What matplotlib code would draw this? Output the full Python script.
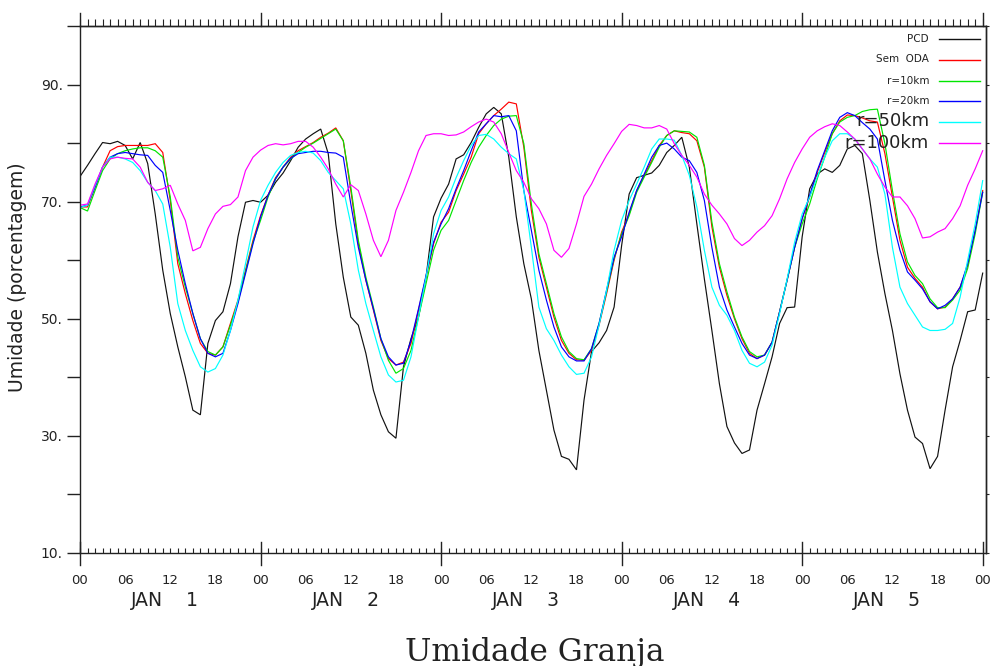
import numpy as np
import matplotlib
matplotlib.use("Agg")
import matplotlib.pyplot as plt
import matplotlib.transforms as mtransforms
from matplotlib.lines import Line2D

# ---------------- data (hourly, 00Z JAN 1 .. 00Z JAN 6) ----------------
hours = np.arange(0, 121)

pcd = [74.3, 76.2, 78.2, 80.1, 79.9, 80.3, 79.6, 77.3, 80.1, 76.5, 67.9, 58.3, 50.9, 45.2, 40.1, 34.4, 33.6, 45.8, 49.7, 51.2, 56.0, 64.0, 69.9, 70.2,
       69.9, 71.1, 73.3, 74.9, 77.0, 79.3, 80.7, 81.6, 82.4, 78.2, 66.2, 57.1, 50.3, 48.9, 44.1, 37.8, 33.6, 30.7, 29.6, 41.8, 46.6, 50.3, 57.1, 67.4,
       70.6, 73.0, 77.3, 78.0, 80.1, 82.7, 85.0, 86.1, 85.0, 77.6, 67.4, 59.4, 53.4, 44.6, 37.8, 31.0, 26.5, 26.0, 24.2, 36.1, 44.4, 45.9, 48.0, 52.0,
       62.5, 71.3, 74.1, 74.5, 74.9, 76.2, 78.4, 79.6, 81.0, 75.9, 66.2, 56.8, 48.0, 38.9, 31.6, 28.8, 27.0, 27.6, 34.4, 38.9, 43.5, 49.2, 51.9, 52.0,
       64.0, 72.2, 74.7, 75.6, 75.0, 76.2, 79.0, 79.6, 78.2, 70.2, 61.4, 54.3, 48.0, 40.6, 34.4, 29.8, 28.7, 24.4, 26.5, 34.4, 41.8, 46.3, 51.2, 51.5, 57.8]

sem_oda = [69.1, 69.1, 72.5, 75.9, 78.7, 79.4, 79.6, 79.6, 79.6, 79.6, 79.9, 78.4, 70.2, 59.4, 54.3, 49.7, 45.8, 44.1, 43.8, 45.2, 49.2, 53.2, 58.3, 63.4,
           67.6, 71.1, 74.1, 75.9, 77.6, 78.7, 79.4, 80.1, 81.0, 81.7, 82.6, 80.4, 71.9, 62.8, 56.6, 51.5, 46.3, 43.2, 42.1, 42.6, 45.8, 51.5, 57.1, 62.8,
           66.5, 68.2, 71.9, 74.7, 77.6, 81.6, 83.3, 84.7, 85.8, 87.0, 86.7, 79.3, 68.5, 60.5, 55.4, 50.3, 46.3, 44.1, 43.0, 42.9, 44.6, 48.9, 54.3, 60.0,
           64.8, 67.9, 71.9, 74.5, 77.0, 79.6, 81.3, 82.1, 81.8, 81.6, 80.4, 75.9, 65.7, 58.8, 54.0, 50.0, 46.6, 44.1, 43.2, 43.8, 46.0, 51.2, 56.6, 62.2,
           67.1, 70.8, 75.0, 78.4, 81.6, 83.8, 84.8, 84.7, 84.3, 83.8, 83.6, 78.2, 70.8, 63.4, 58.8, 56.9, 55.4, 52.9, 51.7, 52.0, 53.4, 55.4, 59.1, 65.1, 71.9]

r10 = [69.0, 68.4, 71.9, 75.3, 77.3, 78.2, 78.7, 79.0, 79.2, 79.2, 78.7, 77.6, 70.8, 60.5, 55.4, 50.9, 46.6, 44.4, 43.8, 45.2, 48.9, 52.9, 58.0, 63.1,
       66.8, 70.8, 73.9, 75.9, 77.3, 78.4, 79.3, 80.0, 80.8, 81.6, 82.4, 80.4, 72.5, 63.4, 57.1, 52.0, 46.6, 42.9, 40.7, 41.5, 44.6, 50.3, 56.0, 61.7,
       65.1, 66.8, 70.2, 73.6, 76.7, 79.3, 81.3, 83.0, 84.1, 84.6, 84.7, 79.9, 69.6, 61.1, 56.0, 50.9, 46.9, 44.4, 43.2, 43.0, 44.9, 49.2, 54.6, 60.3,
       64.5, 67.6, 71.6, 74.2, 76.7, 79.3, 81.3, 82.1, 82.0, 81.9, 81.0, 76.2, 66.5, 59.4, 54.6, 50.3, 46.9, 44.4, 43.5, 43.8, 46.0, 51.2, 56.6, 62.2,
       66.2, 69.6, 73.9, 77.6, 81.6, 83.6, 84.4, 84.7, 85.4, 85.7, 85.8, 79.9, 71.9, 64.5, 59.7, 57.4, 56.0, 53.4, 51.9, 51.9, 53.2, 54.9, 58.6, 64.5, 71.6]

r20 = [69.1, 69.4, 72.5, 75.9, 77.6, 78.2, 78.4, 78.2, 78.0, 77.9, 76.2, 75.0, 68.5, 61.7, 56.0, 50.9, 46.6, 44.1, 43.5, 44.1, 48.0, 52.6, 57.7, 62.8,
       67.4, 71.1, 73.9, 75.9, 77.4, 78.2, 78.4, 78.6, 78.6, 78.4, 78.3, 77.6, 69.6, 62.2, 56.6, 51.7, 46.6, 43.5, 42.1, 42.4, 46.3, 51.7, 57.4, 63.1,
       66.2, 68.8, 72.2, 75.3, 78.7, 81.9, 83.3, 84.7, 84.5, 84.7, 82.1, 71.9, 65.1, 58.3, 53.2, 48.6, 45.2, 43.5, 42.8, 42.8, 44.9, 49.2, 54.9, 60.5,
       64.0, 68.2, 71.9, 74.7, 77.6, 79.6, 80.0, 79.0, 77.6, 77.0, 75.0, 70.2, 62.2, 55.4, 51.5, 48.6, 45.8, 43.8, 43.2, 43.8, 46.0, 51.2, 56.6, 62.2,
       67.1, 71.1, 75.3, 78.7, 82.1, 84.4, 85.2, 84.7, 83.5, 82.4, 80.7, 73.6, 66.8, 61.7, 58.0, 56.6, 55.1, 52.9, 51.7, 52.3, 53.4, 55.4, 59.4, 65.1, 71.6]

r50 = [69.0, 69.4, 72.8, 75.9, 77.6, 77.6, 77.3, 76.7, 75.3, 73.3, 71.9, 69.6, 62.2, 52.6, 48.0, 44.6, 41.8, 40.9, 41.5, 43.8, 48.0, 53.2, 59.4, 65.7,
       70.2, 72.8, 75.0, 76.7, 77.9, 78.4, 78.6, 78.3, 77.0, 75.0, 73.6, 72.2, 66.2, 58.3, 52.6, 48.0, 43.5, 40.4, 39.2, 39.5, 43.5, 50.3, 57.1, 64.5,
       68.5, 70.8, 74.1, 77.0, 79.6, 81.3, 81.5, 80.7, 79.3, 78.2, 77.3, 71.9, 62.2, 52.0, 48.3, 46.3, 43.8, 41.8, 40.5, 40.7, 43.5, 48.9, 54.9, 61.7,
       66.8, 70.2, 73.0, 75.9, 79.0, 80.7, 80.7, 80.5, 77.9, 74.5, 69.1, 61.7, 55.4, 52.3, 50.6, 48.0, 44.6, 42.4, 41.8, 42.6, 45.5, 50.9, 56.8, 63.1,
       67.9, 70.8, 74.2, 77.6, 80.4, 81.6, 81.6, 80.7, 79.0, 77.3, 75.9, 71.3, 62.2, 55.4, 52.6, 50.6, 48.6, 48.0, 48.0, 48.2, 49.2, 53.7, 60.0, 66.2, 73.6]

r100 = [69.4, 69.6, 73.0, 75.9, 77.3, 77.6, 77.4, 77.3, 75.9, 73.3, 71.9, 72.2, 72.8, 69.6, 66.8, 61.6, 62.2, 65.4, 67.9, 69.2, 69.5, 70.8, 75.3, 77.6,
        78.8, 79.6, 79.9, 79.7, 79.9, 80.3, 80.3, 79.3, 77.6, 75.6, 73.0, 70.8, 72.9, 71.9, 67.9, 63.4, 60.6, 63.4, 68.5, 71.6, 75.0, 78.7, 81.3, 81.6,
        81.6, 81.3, 81.4, 81.9, 82.8, 83.6, 84.1, 83.6, 81.6, 78.4, 75.3, 73.3, 70.5, 68.8, 66.2, 61.7, 60.5, 62.0, 66.2, 70.9, 73.0, 75.6, 77.9, 79.9,
        82.0, 83.2, 83.0, 82.6, 82.6, 83.0, 82.4, 79.9, 77.9, 76.2, 74.2, 71.3, 69.4, 67.9, 66.2, 63.7, 62.5, 63.4, 64.8, 65.9, 67.6, 70.5, 73.9, 76.7,
        79.0, 81.0, 82.1, 82.8, 83.3, 83.0, 81.9, 80.7, 79.0, 77.3, 74.7, 72.5, 70.8, 70.8, 69.3, 67.1, 63.8, 64.0, 64.8, 65.4, 67.1, 69.3, 72.8, 75.6, 78.7]

series_names = ["PCD", "Sem  ODA", "r=10km", "r=20km", "r=50km", "r=100km"]
series_vals = [pcd, sem_oda, r10, r20, r50, r100]
series_cols = ["#111111", "#ff0000", "#00e600", "#0000ff", "#00ffff", "#ff00ff"]

hour_labels = ["00", "06", "12", "18"]
day_labels = ["JAN    1", "JAN    2", "JAN    3", "JAN    4", "JAN    5"]
y_ticks = [10, 20, 30, 40, 50, 60, 70, 80, 90, 100]
y_labels = ["10.", "", "30.", "", "50.", "", "70.", "", "90.", ""]

# ---------------- layout ----------------
W, H = 991, 666
fig = plt.figure(figsize=(W / 100, H / 100), dpi=100)
fig.patch.set_facecolor("white")
X0, X1, YT, YB = 80, 986, 26, 553
ax = fig.add_axes([X0 / W, 1 - YB / H, (X1 - X0) / W, (YB - YT) / H])
ax.set_xlim(0, 120 * (X1 - X0) / (982.7 - X0))
ax.set_ylim(10, 100)
INK = "#222222"

for vals, col in zip(series_vals, series_cols):
    ax.plot(hours, vals, color=col, lw=0.85, solid_joinstyle="miter")

for s in ax.spines.values():
    s.set_linewidth(1.0)
    s.set_color(INK)

# y axis (left, long outward ticks)
ax.set_yticks(y_ticks)
ax.set_yticklabels(y_labels)
ax.tick_params(axis="y", which="major", direction="out", length=9.5, width=1.0,
               labelsize=10, pad=3, right=False, colors=INK)
# right side: short outward ticks
axr = ax.secondary_yaxis("right")
axr.set_yticks(y_ticks)
axr.set_yticklabels([])
axr.tick_params(axis="y", direction="out", length=2.5, width=0.8, colors=INK)
axr.spines["right"].set_linewidth(1.0)
axr.spines["right"].set_color(INK)

# x axis : hourly minor ticks, labels every 6 h
ax.set_xticks(np.arange(0, 121, 6))
ax.set_xticklabels([hour_labels[(h // 6) % 4] for h in range(0, 121, 6)])
ax.set_xticks(np.arange(0, 121, 1), minor=True)
ax.tick_params(axis="x", which="both", direction="in", length=3.3, width=0.8,
               top=False, labelsize=9.5, pad=15, colors=INK)
# top axis: hourly ticks pointing up (outside)
axt = ax.secondary_xaxis("top")
axt.set_xticks(np.arange(0, 121, 1))
axt.set_xticklabels([])
axt.tick_params(axis="x", direction="out", length=5.0, width=0.8, colors=INK)
axt.spines["top"].set_linewidth(1.0)
axt.spines["top"].set_color(INK)

# longer day ticks
trans = mtransforms.blended_transform_factory(ax.transData, ax.transAxes)
dy = 11.5 / (YB - YT)
dyt = 13.0 / (YB - YT)
for d in range(0, 121, 24):
    ax.add_line(Line2D([d, d], [-dy, dy], transform=trans, color=INK,
                       lw=1.0, clip_on=False))
    ax.add_line(Line2D([d, d], [1, 1 + dyt], transform=trans, color=INK,
                       lw=1.0, clip_on=False))

# day labels
for i, lab in enumerate(day_labels):
    ax.text(i * 24 + 11.3, -0.0905, lab, transform=trans, ha="center", va="center",
            fontsize=13.5, color=INK)

fig.text(18 / W, 1 - 277 / H, "Umidade (porcentagem)", rotation=90,
         ha="center", va="center", fontsize=13.5, color=INK)

fig.text(535 / W, 1 - 652 / H, "Umidade Granja", ha="center", va="center",
         fontsize=22.5, family="DejaVu Serif", color=INK)

# legend (drawn by hand, right-aligned text with a sample line)
leg_y = [38.5, 59.5, 80.5, 101, 121.5, 142.5]
leg_fs = [7.5, 7.5, 7.5, 7.5, 13, 13]
for name, col, yy, fs in zip(series_names, series_cols, leg_y, leg_fs):
    fig.text(929 / W, 1 - yy / H, name, ha="right", va="center", fontsize=fs,
             color=INK)
    fig.add_artist(Line2D([939 / W, 980 / W], [1 - yy / H, 1 - yy / H],
                          transform=fig.transFigure, color=col, lw=1.0))

fig.savefig("out.png", dpi=100, facecolor="white")
